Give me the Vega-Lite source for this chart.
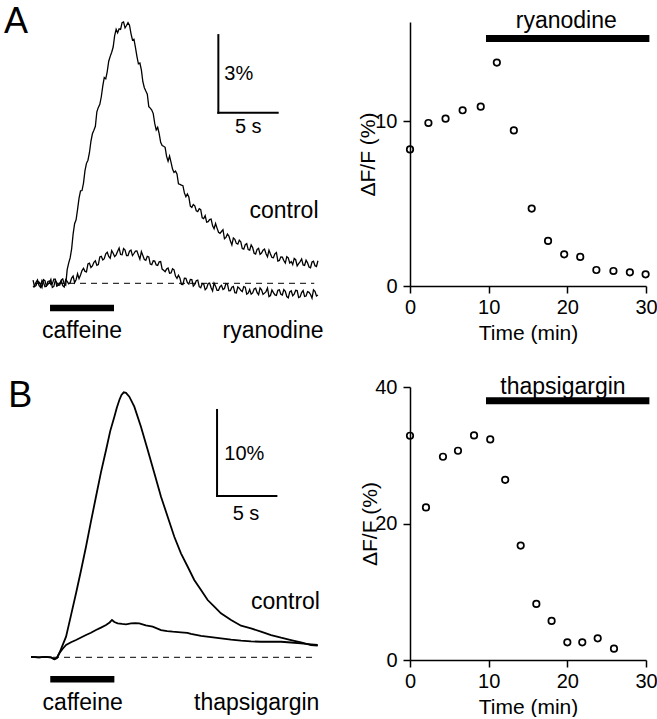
{
  "$schema": "https://vega.github.io/schema/vega-lite/v6.json",
  "padding": 0,
  "background": "white",
  "bounds": "flush",
  "columns": 2,
  "spacing": {"row": 101, "column": 79},
  "config": {
    "view": {"stroke": null},
    "axis": {"domainColor": "black", "domainWidth": 1.5, "tickColor": "black", "tickWidth": 1.5, "tickSize": 7, "labelColor": "black", "labelFontSize": 20, "labelFont": "Liberation Sans", "titleFont": "Liberation Sans", "titleFontSize": 21, "titleFontWeight": "normal", "titleColor": "black", "grid": false, "labelFlush": false, "labelOverlap": false},
    "text": {"font": "Liberation Sans", "color": "black"}
  },
  "datasets": {
    "trA": [
      {"t":0,"c":0.12,"r":-0.15},{"t":0.25,"c":-0.09,"r":0.04},{"t":0.5,"c":0.05,"r":-0.08},{"t":0.75,"c":-0.16,"r":0.11},{"t":1,"c":0.10,"r":-0.13},{"t":1.25,"c":-0.04,"r":0.07},{"t":1.5,"c":0.15,"r":-0.05},{"t":1.75,"c":-0.12,"r":0.16},{"t":2,"c":0.03,"r":-0.11},{"t":2.25,"c":-0.07,"r":0.01},{"t":2.5,"c":0.17,"r":-0.09},{"t":2.75,"c":-0.07,"r":0.14},
      {"t":3,"c":0.78,"r":-0.02},{"t":3.25,"c":1.33,"r":0.20},{"t":3.5,"c":2.30,"r":0.03},{"t":3.75,"c":2.85,"r":0.37},{"t":4,"c":3.57,"r":0.32},{"t":4.25,"c":3.87,"r":0.58},{"t":4.5,"c":4.63,"r":0.44},{"t":4.75,"c":5.04,"r":0.78},{"t":5,"c":5.77,"r":0.67},{"t":5.25,"c":6.06,"r":0.87},{"t":5.5,"c":6.79,"r":0.72},{"t":5.75,"c":7.20,"r":1.04},
      {"t":6,"c":7.94,"r":0.95},{"t":6.25,"c":8.17,"r":1.20},{"t":6.5,"c":8.76,"r":0.97},{"t":6.75,"c":9.12,"r":1.16},{"t":7,"c":9.80,"r":1.10},{"t":7.25,"c":9.82,"r":1.36},{"t":7.5,"c":10.06,"r":1.10},{"t":7.75,"c":9.86,"r":1.28},{"t":8,"c":10.06,"r":1.07},{"t":8.25,"c":9.64,"r":1.28},{"t":8.5,"c":9.42,"r":1.15},{"t":8.75,"c":8.76,"r":1.25},
      {"t":9,"c":8.50,"r":0.93},{"t":9.25,"c":7.78,"r":1.07},{"t":9.5,"c":7.42,"r":0.89},{"t":9.75,"c":6.82,"r":1.02},{"t":10,"c":6.69,"r":0.72},{"t":10.25,"c":6.17,"r":0.86},{"t":10.5,"c":6.02,"r":0.69},{"t":10.75,"c":5.44,"r":0.84},{"t":11,"c":5.29,"r":0.50},{"t":11.25,"c":4.90,"r":0.55},{"t":11.5,"c":4.91,"r":0.39},{"t":11.75,"c":4.41,"r":0.56},
      {"t":12,"c":4.33,"r":0.28},{"t":12.25,"c":3.84,"r":0.31},{"t":12.5,"c":3.79,"r":-0.04},{"t":12.75,"c":3.49,"r":0.20},{"t":13,"c":3.45,"r":0.03},{"t":13.25,"c":2.98,"r":0.15},{"t":13.5,"c":3.04,"r":-0.11},{"t":13.75,"c":2.80,"r":0.10},{"t":14,"c":2.88,"r":-0.13},{"t":14.25,"c":2.53,"r":-0.01},{"t":14.5,"c":2.61,"r":-0.25},{"t":14.75,"c":2.38,"r":-0.01},
      {"t":15,"c":2.48,"r":-0.17},{"t":15.25,"c":2.11,"r":0.01},{"t":15.5,"c":2.13,"r":-0.27},{"t":15.75,"c":1.93,"r":-0.13},{"t":16,"c":2.07,"r":-0.24},{"t":16.25,"c":1.77,"r":-0.01},{"t":16.5,"c":1.82,"r":-0.29},{"t":16.75,"c":1.48,"r":-0.15},{"t":17,"c":1.70,"r":-0.36},{"t":17.25,"c":1.51,"r":-0.14},{"t":17.5,"c":1.60,"r":-0.27},{"t":17.75,"c":1.32,"r":-0.13},
      {"t":18,"c":1.53,"r":-0.42},{"t":18.25,"c":1.28,"r":-0.24},{"t":18.5,"c":1.38,"r":-0.37},{"t":18.75,"c":1.13,"r":-0.19},{"t":19,"c":1.35,"r":-0.44},{"t":19.25,"c":1.17,"r":-0.25},{"t":19.5,"c":1.32,"r":-0.38},{"t":19.75,"c":1.02,"r":-0.18},{"t":20,"c":1.13,"r":-0.47},{"t":20.25,"c":0.99,"r":-0.36},{"t":20.5,"c":1.19,"r":-0.47},{"t":20.75,"c":0.88,"r":-0.25},
      {"t":21,"c":1.01,"r":-0.45},{"t":21.25,"c":0.78,"r":-0.31},{"t":21.5,"c":0.98,"r":-0.56},{"t":21.75,"c":0.84,"r":-0.29},{"t":22,"c":0.96,"r":-0.42},{"t":22.25,"c":0.67,"r":-0.28},{"t":22.5,"c":0.84,"r":-0.52},{"t":22.75,"c":0.71,"r":-0.28},{"t":23,"c":0.89,"r":-0.49},{"t":23.25,"c":0.63,"r":-0.35},{"t":23.5,"c":0.82,"r":-0.57},{"t":23.75,"c":0.68,"r":-0.31},{"t":24,"c":0.87,"r":-0.45},
      {"t":0.125,"c":-0.13,"r":-0.09},{"t":0.375,"c":0.08,"r":0.13},{"t":0.625,"c":-0.05,"r":-0.15},{"t":0.875,"c":0.14,"r":0.04},{"t":1.125,"c":-0.10,"r":-0.11},{"t":1.375,"c":0.02,"r":0.09},{"t":1.625,"c":-0.16,"r":-0.02},{"t":1.875,"c":0.11,"r":0.16},{"t":2.125,"c":-0.07,"r":-0.08},{"t":2.375,"c":0.12,"r":0.10},{"t":2.625,"c":-0.02,"r":-0.14},{"t":2.875,"c":0.53,"r":0.07},
      {"t":3.125,"c":0.98,"r":0.02},{"t":3.375,"c":1.90,"r":0.28},{"t":3.625,"c":2.45,"r":0.14},{"t":3.875,"c":3.29,"r":0.18},{"t":4.125,"c":3.58,"r":0.49},{"t":4.375,"c":4.35,"r":0.46},{"t":4.625,"c":4.75,"r":0.75},{"t":4.875,"c":5.48,"r":0.61},{"t":5.125,"c":5.91,"r":0.81},{"t":5.375,"c":6.62,"r":0.69},{"t":5.625,"c":6.91,"r":1.02},{"t":5.875,"c":7.62,"r":0.90},
      {"t":6.125,"c":7.89,"r":1.14},{"t":6.375,"c":8.57,"r":1.04},{"t":6.625,"c":8.92,"r":1.26},{"t":6.875,"c":9.56,"r":1.03},{"t":7.125,"c":9.67,"r":1.24},{"t":7.375,"c":9.80,"r":1.11},{"t":7.625,"c":10.09,"r":1.34},{"t":7.875,"c":9.95,"r":1.07},{"t":8.125,"c":9.96,"r":1.24},{"t":8.375,"c":9.39,"r":1.07},{"t":8.625,"c":9.11,"r":1.24},{"t":8.875,"c":8.47,"r":1.08},
      {"t":9.125,"c":8.24,"r":1.22},{"t":9.375,"c":7.55,"r":0.92},{"t":9.625,"c":7.30,"r":1.04},{"t":9.875,"c":6.76,"r":0.74},{"t":10.125,"c":6.55,"r":0.87},{"t":10.375,"c":5.92,"r":0.71},{"t":10.625,"c":5.78,"r":0.83},{"t":10.875,"c":5.32,"r":0.55},{"t":11.125,"c":5.25,"r":0.45},{"t":11.375,"c":4.71,"r":0.59},{"t":11.625,"c":4.67,"r":0.40},{"t":11.875,"c":4.28,"r":0.52},
      {"t":12.125,"c":4.22,"r":0.19},{"t":12.375,"c":3.82,"r":0.20},{"t":12.625,"c":3.77,"r":-0.05},{"t":12.875,"c":3.34,"r":0.19},{"t":13.125,"c":3.33,"r":-0.03},{"t":13.375,"c":2.93,"r":0.14},{"t":13.625,"c":2.99,"r":-0.04},{"t":13.875,"c":2.77,"r":0.12},{"t":14.125,"c":2.84,"r":-0.17},{"t":14.375,"c":2.50,"r":-0.02},{"t":14.625,"c":2.36,"r":-0.19},{"t":14.875,"c":2.46,"r":0.01},
      {"t":15.125,"c":2.22,"r":-0.29},{"t":15.375,"c":2.31,"r":-0.11},{"t":15.625,"c":1.97,"r":-0.27},{"t":15.875,"c":2.00,"r":-0.08},{"t":16.125,"c":1.72,"r":-0.20},{"t":16.375,"c":1.90,"r":-0.03},{"t":16.625,"c":1.63,"r":-0.28},{"t":16.875,"c":1.75,"r":-0.12},{"t":17.125,"c":1.54,"r":-0.37},{"t":17.375,"c":1.66,"r":-0.19},{"t":17.625,"c":1.34,"r":-0.32},{"t":17.875,"c":1.49,"r":-0.15},
      {"t":18.125,"c":1.30,"r":-0.38},{"t":18.375,"c":1.48,"r":-0.42},{"t":18.625,"c":1.16,"r":-0.22},{"t":18.875,"c":1.31,"r":-0.36},{"t":19.125,"c":1.12,"r":-0.18},{"t":19.375,"c":1.28,"r":-0.43},{"t":19.625,"c":1.14,"r":-0.32},{"t":19.875,"c":1.28,"r":-0.51},{"t":20.125,"c":1.00,"r":-0.26},{"t":20.375,"c":1.14,"r":-0.45},{"t":20.625,"c":0.86,"r":-0.27},{"t":20.875,"c":1.02,"r":-0.42},
      {"t":21.125,"c":0.88,"r":-0.24},{"t":21.375,"c":1.03,"r":-0.51},{"t":21.625,"c":0.78,"r":-0.33},{"t":21.875,"c":0.72,"r":-0.48},{"t":22.125,"c":0.91,"r":-0.27},{"t":22.375,"c":0.76,"r":-0.55},{"t":22.625,"c":0.94,"r":-0.36},{"t":22.875,"c":0.69,"r":-0.51},{"t":23.125,"c":0.79,"r":-0.32},{"t":23.375,"c":0.60,"r":-0.43},{"t":23.625,"c":0.85,"r":-0.25},{"t":23.875,"c":0.65,"r":-0.49}
    ],
    "trB": [
      {"t":-0.17,"v":0.05,"s":"control"},{"t":0.5,"v":0.0,"s":"control"},{"t":1.0,"v":0.05,"s":"control"},{"t":1.5,"v":0.0,"s":"control"},{"t":1.79,"v":-0.23,"s":"control"},{"t":2.0,"v":-0.1,"s":"control"},{"t":2.21,"v":0.47,"s":"control"},{"t":2.78,"v":2.40,"s":"control"},{"t":3.2,"v":4.9,"s":"control"},{"t":3.62,"v":7.44,"s":"control"},{"t":4.04,"v":10.1,"s":"control"},{"t":4.46,"v":12.86,"s":"control"},{"t":4.88,"v":15.8,"s":"control"},{"t":5.30,"v":18.67,"s":"control"},{"t":5.72,"v":21.5,"s":"control"},{"t":6.15,"v":24.1,"s":"control"},{"t":6.5,"v":26.3,"s":"control"},{"t":6.85,"v":27.98,"s":"control"},{"t":7.05,"v":29.0,"s":"control"},{"t":7.27,"v":29.92,"s":"control"},{"t":7.45,"v":30.5,"s":"control"},{"t":7.64,"v":30.81,"s":"control"},{"t":7.83,"v":30.75,"s":"control"},{"t":8.11,"v":30.30,"s":"control"},{"t":8.53,"v":29.14,"s":"control"},{"t":9.09,"v":26.81,"s":"control"},{"t":9.66,"v":24.10,"s":"control"},{"t":10.22,"v":21.40,"s":"control"},{"t":10.78,"v":18.67,"s":"control"},{"t":11.34,"v":16.35,"s":"control"},{"t":11.90,"v":14.02,"s":"control"},{"t":12.46,"v":12.09,"s":"control"},{"t":13.03,"v":10.53,"s":"control"},{"t":13.58,"v":8.99,"s":"control"},{"t":14.15,"v":7.83,"s":"control"},{"t":14.71,"v":6.66,"s":"control"},{"t":15.27,"v":5.88,"s":"control"},{"t":15.83,"v":5.12,"s":"control"},{"t":16.68,"v":4.34,"s":"control"},{"t":17.52,"v":3.67,"s":"control"},{"t":18.36,"v":3.37,"s":"control"},{"t":19.20,"v":2.98,"s":"control"},{"t":20.05,"v":2.59,"s":"control"},{"t":20.89,"v":2.28,"s":"control"},{"t":21.73,"v":2.01,"s":"control"},{"t":22.57,"v":1.74,"s":"control"},{"t":23.42,"v":1.43,"s":"control"},{"t":23.98,"v":1.35,"s":"control"},
      {"t":-0.17,"v":0.05,"s":"thapsigargin"},{"t":0.5,"v":0.0,"s":"thapsigargin"},{"t":1.0,"v":0.05,"s":"thapsigargin"},{"t":1.5,"v":0.0,"s":"thapsigargin"},{"t":1.79,"v":-0.23,"s":"thapsigargin"},{"t":2.0,"v":-0.1,"s":"thapsigargin"},{"t":2.21,"v":0.47,"s":"thapsigargin"},{"t":2.5,"v":1.0,"s":"thapsigargin"},{"t":2.78,"v":1.43,"s":"thapsigargin"},{"t":3.2,"v":1.75,"s":"thapsigargin"},{"t":3.62,"v":2.01,"s":"thapsigargin"},{"t":4.04,"v":2.3,"s":"thapsigargin"},{"t":4.46,"v":2.59,"s":"thapsigargin"},{"t":4.88,"v":2.85,"s":"thapsigargin"},{"t":5.30,"v":3.17,"s":"thapsigargin"},{"t":5.72,"v":3.45,"s":"thapsigargin"},{"t":6.15,"v":3.76,"s":"thapsigargin"},{"t":6.45,"v":4.05,"s":"thapsigargin"},{"t":6.65,"v":4.34,"s":"thapsigargin"},{"t":6.85,"v":4.1,"s":"thapsigargin"},{"t":7.13,"v":3.95,"s":"thapsigargin"},{"t":7.5,"v":3.88,"s":"thapsigargin"},{"t":7.83,"v":3.84,"s":"thapsigargin"},{"t":8.25,"v":3.95,"s":"thapsigargin"},{"t":8.6,"v":3.97,"s":"thapsigargin"},{"t":8.95,"v":3.95,"s":"thapsigargin"},{"t":9.5,"v":3.7,"s":"thapsigargin"},{"t":10.08,"v":3.56,"s":"thapsigargin"},{"t":10.78,"v":3.17,"s":"thapsigargin"},{"t":11.3,"v":3.05,"s":"thapsigargin"},{"t":11.77,"v":2.98,"s":"thapsigargin"},{"t":12.46,"v":2.91,"s":"thapsigargin"},{"t":13.0,"v":2.85,"s":"thapsigargin"},{"t":13.3,"v":2.72,"s":"thapsigargin"},{"t":14.15,"v":2.48,"s":"thapsigargin"},{"t":15.0,"v":2.35,"s":"thapsigargin"},{"t":15.83,"v":2.21,"s":"thapsigargin"},{"t":16.68,"v":2.05,"s":"thapsigargin"},{"t":17.52,"v":1.93,"s":"thapsigargin"},{"t":18.36,"v":1.85,"s":"thapsigargin"},{"t":19.20,"v":1.81,"s":"thapsigargin"},{"t":20.05,"v":1.81,"s":"thapsigargin"},{"t":20.89,"v":1.81,"s":"thapsigargin"},{"t":21.73,"v":1.72,"s":"thapsigargin"},{"t":22.57,"v":1.63,"s":"thapsigargin"},{"t":23.42,"v":1.50,"s":"thapsigargin"},{"t":23.98,"v":1.43,"s":"thapsigargin"}
    ],
    "scA": [
      {"time":0,"value":8.28},{"time":2.34,"value":9.88},{"time":4.52,"value":10.14},{"time":6.69,"value":10.65},{"time":8.99,"value":10.87},{"time":11.04,"value":13.54},{"time":13.2,"value":9.43},{"time":15.47,"value":4.69},{"time":17.55,"value":2.73},{"time":19.6,"value":1.92},{"time":21.64,"value":1.76},{"time":23.69,"value":0.97},{"time":25.86,"value":0.91},{"time":27.95,"value":0.83},{"time":29.95,"value":0.71}
    ],
    "scB": [
      {"time":0,"value":32.86},{"time":2.03,"value":22.35},{"time":4.19,"value":29.78},{"time":6.1,"value":30.66},{"time":8.14,"value":32.91},{"time":10.2,"value":32.32},{"time":12.1,"value":26.4},{"time":14.07,"value":16.77},{"time":16.06,"value":8.22},{"time":18.0,"value":5.72},{"time":20.0,"value":2.59},{"time":21.9,"value":2.59},{"time":23.86,"value":3.18},{"time":25.93,"value":1.66}
    ]
  },
  "concat": [
    {
      "width": 330, "height": 264,
      "encoding": {
        "x": {"field": "t", "type": "quantitative", "scale": {"domain": [-2.7, 25.1], "nice": false, "zero": false}, "axis": null},
        "y": {"field": "v", "type": "quantitative", "scale": {"domain": [-0.104, 10.085], "nice": false, "zero": false}, "axis": null}
      },
      "layer": [
        {"data": {"values": [{"t": -2.68, "v": 10.914, "t2": -2.68, "v2": 10.6}]}, "mark": {"type": "rule", "color": "white", "strokeWidth": 1}, "encoding": {"x2": {"field": "t2"}, "y2": {"field": "v2"}}},
        {"data": {"name": "trA"}, "transform": [{"fold": ["c", "r"], "as": ["s", "v"]}], "mark": {"type": "line", "color": "black", "strokeWidth": 1.3}, "encoding": {"detail": {"field": "s"}}},
        {"data": {"values": [{"t": 0.25, "t2": 23.69, "v": 0}]}, "mark": {"type": "rule", "color": "black", "strokeWidth": 1, "strokeDash": [6, 5]}, "encoding": {"x2": {"field": "t2"}}},
        {"data": {"values": [{"t": 15.61, "t2": 15.61, "v": 9.58, "v2": 6.58}, {"t": 15.61, "t2": 20.61, "v": 6.58, "v2": 6.58}]}, "mark": {"type": "rule", "color": "black", "strokeWidth": 2, "strokeCap": "square"}, "encoding": {"x2": {"field": "t2"}, "y2": {"field": "v2"}}},
        {"data": {"values": [{"t": 1.43, "t2": 6.82, "v": -0.95}]}, "mark": {"type": "rule", "color": "black", "strokeWidth": 6.5}, "encoding": {"x2": {"field": "t2"}}},
        {"data": {"values": [{"t": -1.44, "v": 9.65, "label": "A"}]}, "mark": {"type": "text", "fontSize": 36, "align": "center", "baseline": "alphabetic", "color": "black"}, "encoding": {"text": {"field": "label"}}},
        {"data": {"values": [{"t": 24.05, "v": 2.51, "label": "control"}, {"t": 24.47, "v": -2.11, "label": "ryanodine"}]}, "mark": {"type": "text", "fontSize": 23, "align": "right", "baseline": "alphabetic", "color": "black"}, "encoding": {"text": {"field": "label"}}},
        {"data": {"values": [{"t": 4.12, "v": -2.11, "label": "caffeine"}]}, "mark": {"type": "text", "fontSize": 23, "align": "center", "baseline": "alphabetic", "color": "black"}, "encoding": {"text": {"field": "label"}}},
        {"data": {"values": [{"t": 16.11, "v": 7.85, "label": "3%"}]}, "mark": {"type": "text", "fontSize": 20, "align": "left", "baseline": "alphabetic", "color": "black"}, "encoding": {"text": {"field": "label"}}},
        {"data": {"values": [{"t": 18.13, "v": 5.79, "label": "5 s"}]}, "mark": {"type": "text", "fontSize": 20, "align": "center", "baseline": "alphabetic", "color": "black"}, "encoding": {"text": {"field": "label"}}}
      ]
    },
    {
      "width": 236, "height": 264,
      "encoding": {
        "x": {"field": "time", "type": "quantitative", "scale": {"domain": [0, 30], "nice": false, "zero": false}, "axis": {"values": [0, 10, 20, 30], "title": "Time (min)", "titleY": 53, "titleBaseline": "alphabetic", "labelPadding": 4}},
        "y": {"field": "value", "type": "quantitative", "scale": {"domain": [0, 16], "nice": false, "zero": false}, "axis": {"values": [0, 10], "title": "ΔF/F (%)", "titleX": -36, "titleBaseline": "alphabetic", "labelPadding": 6}}
      },
      "layer": [
        {"data": {"name": "scA"}, "mark": {"type": "point", "shape": "circle", "filled": false, "color": "black", "opacity": 1, "size": 42, "strokeWidth": 1.7}},
        {"data": {"values": [{"time": 9.66, "time2": 30.43, "value": 15.0}]}, "mark": {"type": "rule", "color": "black", "strokeWidth": 7}, "encoding": {"x2": {"field": "time2"}}},
        {"data": {"values": [{"time": 19.86, "value": 15.62, "label": "ryanodine"}]}, "mark": {"type": "text", "fontSize": 23, "align": "center", "baseline": "alphabetic", "color": "black"}, "encoding": {"text": {"field": "label"}}}
      ]
    },
    {
      "width": 330, "height": 273,
      "encoding": {
        "x": {"field": "t", "type": "quantitative", "scale": {"domain": [-2.7, 25.1], "nice": false, "zero": false}, "axis": null},
        "y": {"field": "v", "type": "quantitative", "scale": {"domain": [-0.314, 31.43], "nice": false, "zero": false}, "axis": null}
      },
      "layer": [
        {"data": {"name": "trB"}, "mark": {"type": "line", "color": "black", "strokeWidth": 1.8}, "encoding": {"detail": {"field": "s"}}},
        {"data": {"values": [{"t": -0.17, "t2": 23.84, "v": 0}]}, "mark": {"type": "rule", "color": "black", "strokeWidth": 1, "strokeDash": [6, 5]}, "encoding": {"x2": {"field": "t2"}}},
        {"data": {"values": [{"t": 15.5, "t2": 15.5, "v": 28.76, "v2": 18.76}, {"t": 15.5, "t2": 20.5, "v": 18.76, "v2": 18.76}]}, "mark": {"type": "rule", "color": "black", "strokeWidth": 2, "strokeCap": "square"}, "encoding": {"x2": {"field": "t2"}, "y2": {"field": "v2"}}},
        {"data": {"values": [{"t": 1.45, "t2": 6.85, "v": -2.55}]}, "mark": {"type": "rule", "color": "black", "strokeWidth": 6.5}, "encoding": {"x2": {"field": "t2"}}},
        {"data": {"values": [{"t": -1.08, "v": 29.14, "label": "B"}]}, "mark": {"type": "text", "fontSize": 36, "align": "center", "baseline": "alphabetic", "color": "black"}, "encoding": {"text": {"field": "label"}}},
        {"data": {"values": [{"t": 24.17, "v": 5.6, "label": "control"}, {"t": 24.12, "v": -6.13, "label": "thapsigargin"}]}, "mark": {"type": "text", "fontSize": 23, "align": "right", "baseline": "alphabetic", "color": "black"}, "encoding": {"text": {"field": "label"}}},
        {"data": {"values": [{"t": 4.18, "v": -6.13, "label": "caffeine"}]}, "mark": {"type": "text", "fontSize": 23, "align": "center", "baseline": "alphabetic", "color": "black"}, "encoding": {"text": {"field": "label"}}},
        {"data": {"values": [{"t": 16.11, "v": 22.94, "label": "10%"}]}, "mark": {"type": "text", "fontSize": 20, "align": "left", "baseline": "alphabetic", "color": "black"}, "encoding": {"text": {"field": "label"}}},
        {"data": {"values": [{"t": 17.94, "v": 15.97, "label": "5 s"}]}, "mark": {"type": "text", "fontSize": 20, "align": "center", "baseline": "alphabetic", "color": "black"}, "encoding": {"text": {"field": "label"}}}
      ]
    },
    {
      "width": 236, "height": 273,
      "encoding": {
        "x": {"field": "time", "type": "quantitative", "scale": {"domain": [0, 30], "nice": false, "zero": false}, "axis": {"values": [0, 10, 20, 30], "title": "Time (min)", "titleY": 53, "titleBaseline": "alphabetic", "labelPadding": 4}},
        "y": {"field": "value", "type": "quantitative", "scale": {"domain": [0, 40], "nice": false, "zero": false}, "axis": {"values": [0, 20, 40], "title": "ΔF/F (%)", "titleX": -34, "titleBaseline": "alphabetic", "labelPadding": 6}}
      },
      "layer": [
        {"data": {"name": "scB"}, "mark": {"type": "point", "shape": "circle", "filled": false, "color": "black", "opacity": 1, "size": 42, "strokeWidth": 1.7}},
        {"data": {"values": [{"time": 9.66, "time2": 30.43, "value": 37.98}]}, "mark": {"type": "rule", "color": "black", "strokeWidth": 7}, "encoding": {"x2": {"field": "time2"}}},
        {"data": {"values": [{"time": 19.45, "value": 38.97, "label": "thapsigargin"}]}, "mark": {"type": "text", "fontSize": 23, "align": "center", "baseline": "alphabetic", "color": "black"}, "encoding": {"text": {"field": "label"}}}
      ]
    }
  ]
}
